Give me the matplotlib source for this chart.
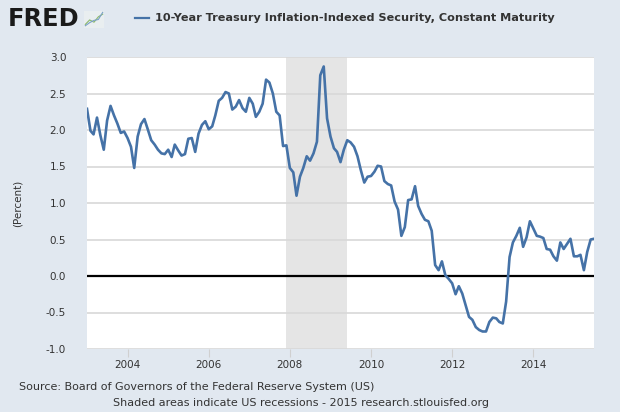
import matplotlib
matplotlib.use("Agg")
import matplotlib.pyplot as plt
import pandas as pd

# monthly 10-year TIPS yield, Jan 2003 - Jul 2015
tips = [
    2.29, 1.99, 1.94, 2.17, 1.93, 1.73, 2.13, 2.33, 2.20, 2.09, 1.96, 1.98,   # 2003
    1.89, 1.77, 1.48, 1.91, 2.08, 2.15, 2.01, 1.86, 1.80, 1.73, 1.68, 1.67,   # 2004
    1.73, 1.63, 1.80, 1.72, 1.65, 1.67, 1.88, 1.89, 1.70, 1.95, 2.07, 2.12,   # 2005
    2.01, 2.05, 2.20, 2.40, 2.44, 2.52, 2.50, 2.28, 2.32, 2.41, 2.30, 2.25,   # 2006
    2.44, 2.36, 2.18, 2.25, 2.36, 2.69, 2.65, 2.50, 2.25, 2.20, 1.78, 1.79,   # 2007
    1.48, 1.42, 1.10, 1.36, 1.48, 1.64, 1.58, 1.68, 1.84, 2.75, 2.87, 2.16,   # 2008
    1.91, 1.75, 1.70, 1.56, 1.73, 1.86, 1.83, 1.77, 1.64, 1.45, 1.28, 1.36,   # 2009
    1.37, 1.43, 1.51, 1.50, 1.30, 1.26, 1.24, 1.02, 0.91, 0.55, 0.67, 1.04,   # 2010
    1.05, 1.23, 0.96, 0.85, 0.77, 0.75, 0.62, 0.15, 0.08, 0.20, 0.01, -0.04,  # 2011
    -0.10, -0.25, -0.14, -0.24, -0.40, -0.56, -0.60, -0.70, -0.74, -0.76, -0.76, -0.63,  # 2012
    -0.57, -0.58, -0.63, -0.65, -0.35, 0.26, 0.46, 0.55, 0.66, 0.40, 0.53, 0.75,  # 2013
    0.65, 0.55, 0.54, 0.52, 0.37, 0.36, 0.27, 0.21, 0.46, 0.37, 0.44, 0.51,   # 2014
    0.27, 0.27, 0.29, 0.08, 0.33, 0.50, 0.51,                                 # 2015
]
dates = pd.date_range("2003-01-01", periods=len(tips), freq="MS")

recession_start = pd.Timestamp("2007-12-01")
recession_end = pd.Timestamp("2009-06-01")

year_ticks = [2004, 2006, 2008, 2010, 2012, 2014]
y_ticks = [-1.0, -0.5, 0.0, 0.5, 1.0, 1.5, 2.0, 2.5, 3.0]

series_name = "10-Year Treasury Inflation-Indexed Security, Constant Maturity"
source_text = "Source: Board of Governors of the Federal Reserve System (US)"
note_text = "Shaded areas indicate US recessions - 2015 research.stlouisfed.org"

bg = "#e1e8f0"
line_color = "#4572a7"
text_color = "#333333"

fig = plt.figure(figsize=(6.2, 4.12), dpi=100, facecolor=bg)
ax = fig.add_axes([87 / 620, 1 - 349 / 412, (594 - 87) / 620, (349 - 57) / 412])
ax.set_facecolor("white")

ax.axvspan(recession_start, recession_end, color="#e5e5e5", lw=0, zorder=1)
for y in y_ticks:
    if y != 0:
        ax.axhline(y, color="#d8d8d8", lw=1.2, zorder=2)
ax.axhline(0, color="black", lw=1.6, zorder=3)
ax.plot(dates, tips, color=line_color, lw=1.9, zorder=4)

ax.set_xlim(dates[0], dates[-1])
ax.set_ylim(-1.0, 3.0)
ax.set_yticks(y_ticks)
ax.set_yticklabels([f"{v:.1f}" for v in y_ticks])
ax.set_xticks([pd.Timestamp(f"{y}-01-01") for y in year_ticks])
ax.set_xticklabels([str(y) for y in year_ticks])
ax.tick_params(axis="y", length=0, pad=15, labelsize=7.5, labelcolor=text_color)
ax.tick_params(axis="x", length=6, width=0.8, color="#d0d0d0", pad=2,
               labelsize=7.5, labelcolor=text_color)
for s in ax.spines.values():
    s.set_visible(False)

fig.text(18 / 620, 1 - 203 / 412, "(Percent)", rotation=90, ha="center", va="center",
         fontsize=7.5, color=text_color)

# header: logo and legend
fig.text(8 / 620, 1 - 19 / 412, "FRED", fontsize=17.3, fontweight="bold", color="#1a1a1a",
         ha="left", va="center")
icon = fig.add_axes([84 / 620, 1 - 28 / 412, 20 / 620, 17 / 412])
icon.set_facecolor("#e9eef0")
icon.plot([0, 1, 2, 3, 4], [0.5, 1.5, 1.0, 2.2, 2.8], color="#8ab86a", lw=0.8)
icon.plot([0, 1, 2, 3, 4], [0.2, 0.9, 1.4, 1.6, 3.2], color="#7aa0c8", lw=0.8)
icon.set_xlim(-0.3, 4.3)
icon.set_ylim(-0.3, 3.5)
icon.set_xticks([])
icon.set_yticks([])
for s in icon.spines.values():
    s.set_visible(False)

fig.lines.append(plt.Line2D([135 / 620, 149 / 620], [1 - 18 / 412, 1 - 18 / 412],
                            transform=fig.transFigure, color=line_color, lw=1.6))
fig.text(155 / 620, 1 - 18 / 412, series_name, fontsize=8.1, fontweight="bold",
         color=text_color, ha="left", va="center")

fig.text(19 / 620, 1 - 387 / 412, source_text, fontsize=8.0, color=text_color,
         ha="left", va="center")
fig.text(301 / 620, 1 - 403 / 412, note_text, fontsize=8.0, color=text_color,
         ha="center", va="center")

fig.savefig("out.png", dpi=100, facecolor=bg)
